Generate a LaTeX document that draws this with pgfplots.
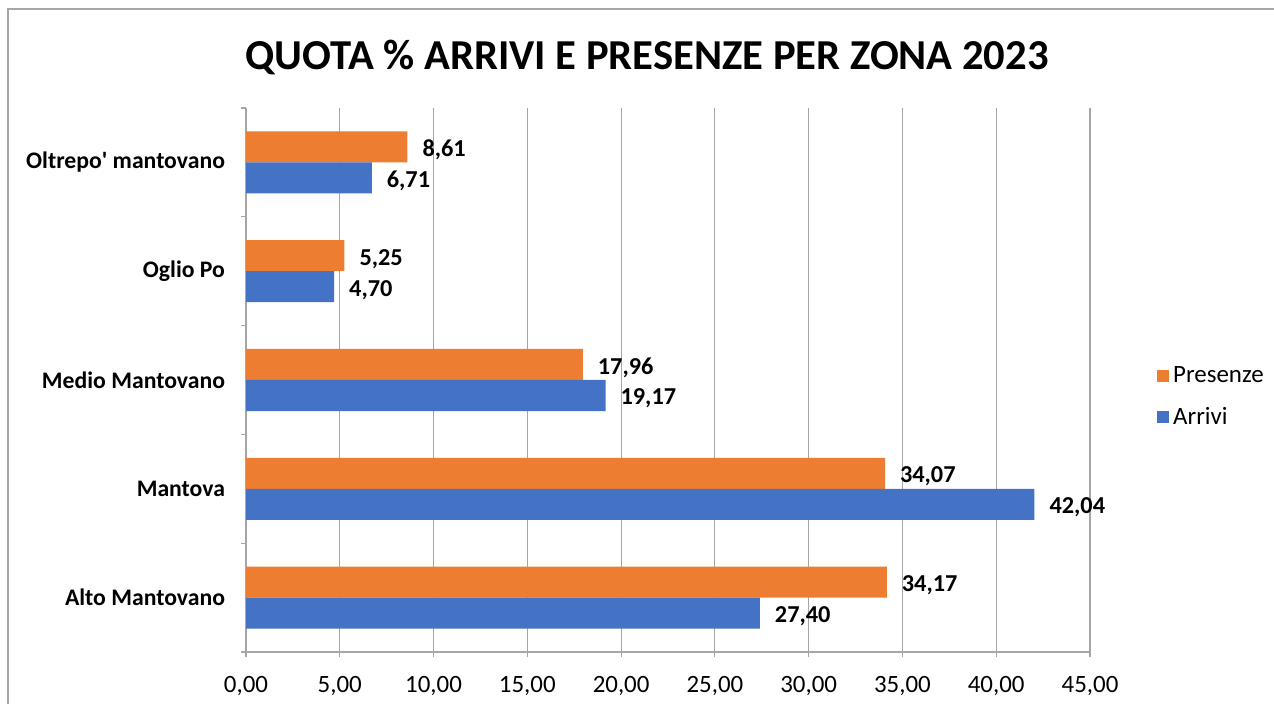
\documentclass[border=0pt]{standalone}
\usepackage{pgfplots}
\pgfplotsset{compat=1.18}
\usepackage{fontspec}
\setmainfont{Carlito}
\definecolor{cOrange}{HTML}{ED7D31}
\definecolor{cBlue}{HTML}{4472C4}
\definecolor{cGrid}{HTML}{A6A6A6}
\begin{document}
\begin{tikzpicture}
\path[use as bounding box] (0,0) rectangle (637bp,352bp);
\draw[cGrid, line width=0.6bp] (4bp,0) -- (4bp,347.5bp) -- (637bp,347.5bp);
\node[font=\fontsize{21.4}{25}\selectfont\bfseries, anchor=center] at (323.5bp,323.5bp) {QUOTA \% ARRIVI E PRESENZE PER ZONA 2023};
\begin{axis}[
  at={(123bp,26bp)}, anchor=south west,
  scale only axis, width=422bp, height=272bp,
  xbar, bar width=0.285,
  xmin=0, xmax=45, ymin=-0.5, ymax=4.5,
  xtick={0,5,...,45},
  xmajorgrids, grid style={cGrid, line width=0.6bp},
  axis x line*=bottom, axis y line*=left,
  axis line style={cGrid, line width=0.6bp, -},
  tick style={cGrid, line width=0.6bp},
  xtick align=outside, ytick align=outside,
  major tick length=2.5bp,
  ytick={-0.5,0.5,...,4.5}, yticklabels={},
  extra y ticks={0,1,2,3,4},
  extra y tick labels={Alto Mantovano,Mantova,Medio Mantovano,Oglio Po,Oltrepo\textquotesingle{} mantovano},
  extra y tick style={major tick length=0pt, yticklabel style={font=\fontsize{11.9}{14}\selectfont\bfseries, text=black, xshift=-7bp}},
  /pgf/number format/assume math mode=true,
  xticklabel style={font=\fontsize{12.5}{15}\selectfont, text=black, yshift=-6bp,
    /pgf/number format/.cd, fixed, fixed zerofill, precision=2, use comma},
  nodes near coords,
  nodes near coords style={font=\fontsize{12.2}{14}\selectfont\bfseries, text=black, anchor=west, xshift=4bp, yshift=-1.5bp,
    /pgf/number format/.cd, fixed, fixed zerofill, precision=2, use comma, assume math mode=true},
  legend style={at={(1.072,0.469)}, anchor=west, draw=none, fill=none,
    font=\fontsize{12.5}{14}\selectfont, row sep=7bp, cells={anchor=west}},
  legend image code/.code={\fill (0bp,-3bp) rectangle (6bp,3bp);},
]
\addplot[draw=none, fill=cOrange, bar shift=0.1425] coordinates {(34.17,0) (34.07,1) (17.96,2) (5.25,3) (8.61,4)};
\addplot[draw=none, fill=cBlue, bar shift=-0.1425] coordinates {(27.40,0) (42.04,1) (19.17,2) (4.70,3) (6.71,4)};
\legend{Presenze, Arrivi}
\end{axis}
\end{tikzpicture}
\end{document}
